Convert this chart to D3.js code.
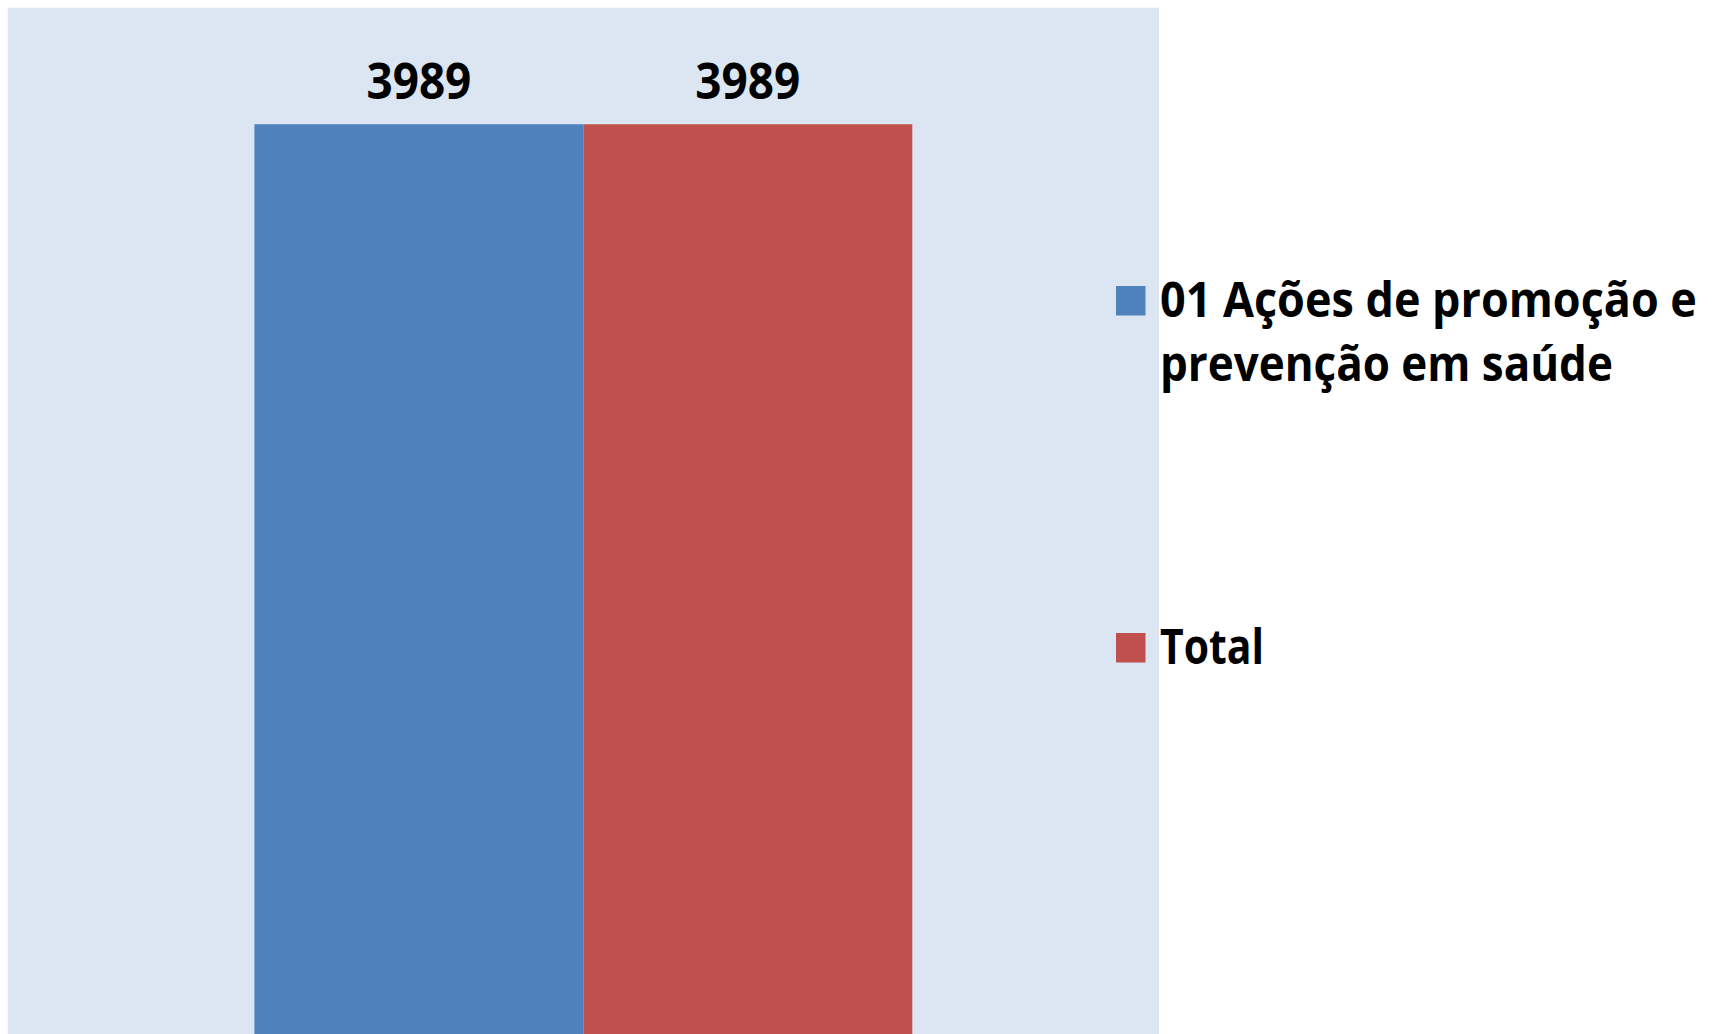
<!DOCTYPE html>
<html><head><meta charset="utf-8">
<script src="https://cdn.jsdelivr.net/npm/d3@7/dist/d3.min.js"></script>
<style>html,body{margin:0;padding:0;background:#fff;overflow:hidden}</style>
</head><body>
<script>
const categories = ["Ações"];
const seriesNames = ["01 Ações de promoção e prevenção em saúde", "Total"];
const seriesValues = [3989, 3989];
const seriesColors = ["#4F81BD", "#C0504D"];
const legendLines = [["01 Ações de promoção e", "prevenção em saúde"], ["Total"]];

const W = 1721, H = 1034;
const plotL = 7.7, plotT = 7.7, plotR = 1159, plotB = 1034;
const font = "'Open Sans', 'Liberation Sans', sans-serif";

const svg = d3.select("body").append("svg").attr("width", W).attr("height", H);
svg.append("rect").attr("x", plotL).attr("y", plotT).attr("width", plotR - plotL).attr("height", plotB - plotT + 10).attr("fill", "#DCE6F2");

const x = d3.scaleBand().domain(seriesNames).range([plotL, plotR]).paddingInner(0).paddingOuter(0.75);
const y = d3.scaleLinear().domain([0, 4500]).range([plotB, plotT]);

const data = seriesNames.map((n, i) => ({name: n, value: seriesValues[i], color: seriesColors[i]}));

svg.selectAll("rect.bar").data(data).enter().append("rect").attr("class", "bar")
  .attr("x", d => x(d.name)).attr("width", x.bandwidth())
  .attr("y", d => y(d.value)).attr("height", d => plotB + 10 - y(d.value))
  .attr("fill", d => d.color);

// condensed text helper: scale horizontally to target width
function fitText(sel, x0, y0, target, anchor) {
  const w = sel.node().getComputedTextLength();
  const sx = target / w;
  sel.attr("x", 0).attr("y", 0).attr("text-anchor", anchor)
     .attr("transform", `translate(${x0},${y0}) scale(${sx},1)`);
}

data.forEach(d => {
  const t = svg.append("text").attr("font-family", font).attr("font-weight", 700)
    .attr("font-size", 50).attr("fill", "#000").text(d.value);
  fitText(t, x(d.name) + x.bandwidth() / 2, y(d.value) - 25, 105, "middle");
});

// legend
const legendY = [286, 633];
const lineWidths = [[537, 453], [104]];
data.forEach((d, i) => {
  svg.append("rect").attr("x", 1116).attr("y", legendY[i]).attr("width", 29.5).attr("height", 29.5).attr("fill", d.color);
  legendLines[i].forEach((ln, j) => {
    const t = svg.append("text").attr("font-family", font).attr("font-weight", 700)
      .attr("font-size", 49).attr("fill", "#000").text(ln);
    fitText(t, 1160, legendY[i] + 31 + j * 64, lineWidths[i][j], "start");
  });
});
</script>
</body></html>
